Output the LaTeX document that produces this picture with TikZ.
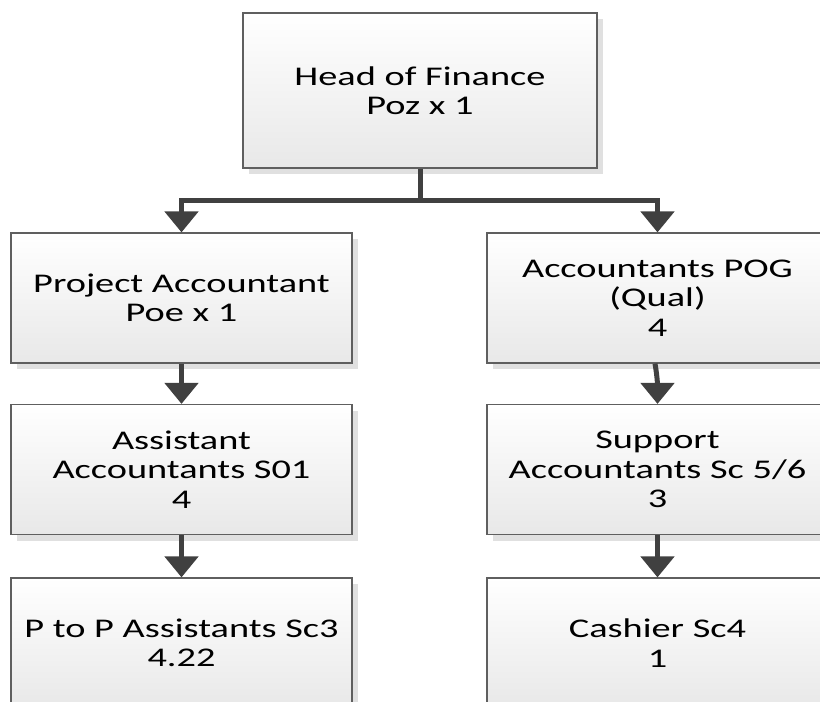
\documentclass[tikz,border=0pt]{standalone}
\usepackage{fontspec}
\setmainfont{Carlito}[FakeStretch=1.42]
\usetikzlibrary{arrows.meta,shadows}
\definecolor{lnc}{HTML}{404040}
\definecolor{bdc}{HTML}{5F5F5F}
\definecolor{shc}{HTML}{E0E0E0}
\begin{document}
\begin{tikzpicture}[x=1pt,y=-1pt,
  orgbox/.style={draw=bdc, line width=1.2pt, top color=white, bottom color=black!9,
    minimum width=341pt, minimum height=130pt, align=center, inner sep=0pt,
    font=\fontsize{27}{29.5}\selectfont,
    drop shadow={shadow xshift=6pt, shadow yshift=-6pt, fill=shc, opacity=1}},
  conn/.style={draw=lnc, line width=5pt, -{Triangle[width=33pt,length=21pt]}}]
\useasboundingbox (0,0) rectangle (820,702);
\clip (0,0) rectangle (820,702);
\node[orgbox, minimum width=354pt, minimum height=155pt] (head) at (420,90.5) {Head of Finance\\Poz x 1};
\node[orgbox] (pa)  at (181.5,298)   {Project Accountant\\Poe x 1};
\node[orgbox] (pog) at (657.5,298)   {Accountants POG\\(Qual)\\4};
\node[orgbox] (aa)  at (181.5,469.5) {Assistant\\Accountants S01\\4};
\node[orgbox] (sa)  at (657.5,469.5) {Support\\Accountants Sc 5/6\\3};
\node[orgbox] (pp)  at (181.5,643)   {P to P Assistants Sc3\\4.22};
\node[orgbox] (cs)  at (657.5,643)   {Cashier Sc4\\1};
\coordinate (hb) at ([yshift=-32pt]head.south);
\draw[conn] (head.south) -- (hb) -| (pa.north);
\draw[conn] (hb) -| (pog.north);
\draw[conn] (pa.south) -- (aa.north);
\draw[conn] ([xshift=-2.5pt]pog.south) to[out=-80,in=90] (sa.north);
\draw[conn] (aa.south) -- (pp.north);
\draw[conn] (sa.south) -- (cs.north);
\end{tikzpicture}
\end{document}
